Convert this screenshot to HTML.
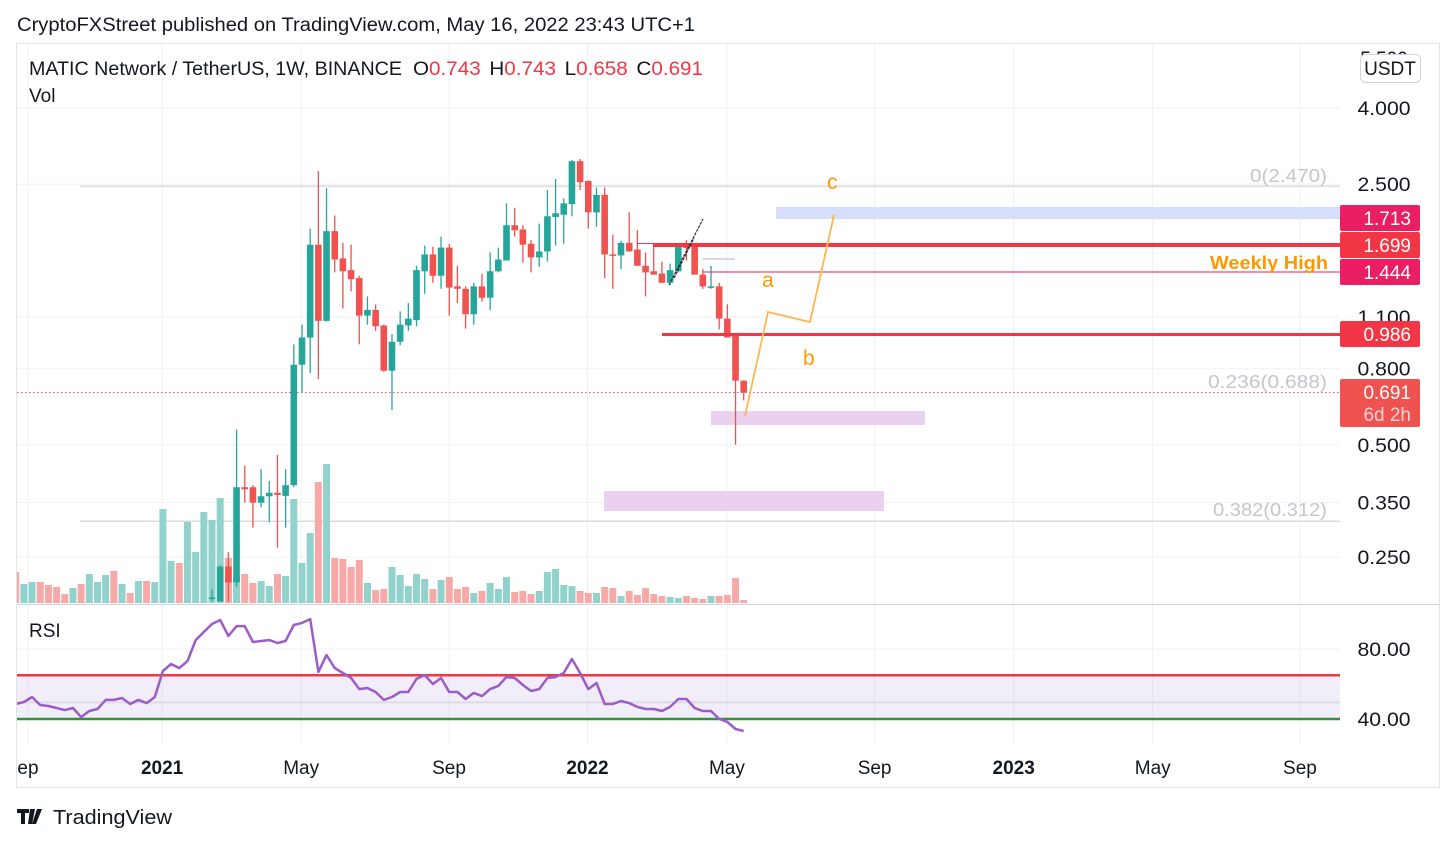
<!DOCTYPE html>
<html><head><meta charset="utf-8">
<style>
html,body{margin:0;padding:0;background:#fff;width:1455px;height:844px;overflow:hidden;font-family:"Liberation Sans",sans-serif;}
svg{position:absolute;left:0;top:0;}
</style></head>
<body>
<svg id="c" width="1455" height="844" viewBox="0 0 1455 844" xmlns="http://www.w3.org/2000/svg">
<defs><clipPath id="plotclip"><rect x="17" y="44" width="1323" height="700"/></clipPath></defs>
<text x="17" y="31" font-size="19" fill="#131722" textLength="678" lengthAdjust="spacingAndGlyphs">CryptoFXStreet published on TradingView.com, May 16, 2022 23:43 UTC+1</text>
<rect x="16.5" y="43.5" width="1423" height="744" fill="none" stroke="#e0e3eb"/>
<g id="grid"></g>
<g id="annot-back" clip-path="url(#plotclip)"></g>
<g id="vol" clip-path="url(#plotclip)"></g>
<g id="candles"></g>
<g id="annot"></g>
<line x1="17" y1="604.5" x2="1439" y2="604.5" stroke="#d1d4dc"/>
<g id="rsi" clip-path="url(#plotclip)"></g>
<g id="axes"></g>
<text x="29" y="75" font-size="19" fill="#131722" textLength="373" lengthAdjust="spacingAndGlyphs">MATIC Network / TetherUS, 1W, BINANCE</text>
<text x="413" y="75" font-size="19" fill="#131722" textLength="290" lengthAdjust="spacingAndGlyphs">O<tspan fill="#f23645">0.743</tspan><tspan dx="8">H</tspan><tspan fill="#f23645">0.743</tspan><tspan dx="8">L</tspan><tspan fill="#f23645">0.658</tspan><tspan dx="8">C</tspan><tspan fill="#f23645">0.691</tspan></text>
<text x="29" y="102" font-size="19" fill="#131722">Vol</text>
<text x="29" y="637" font-size="19" fill="#131722">RSI</text>
<rect x="1360.5" y="54.5" width="60" height="28" rx="5" fill="#fff" stroke="#d1d4dc"/>
<text x="1390" y="75" font-size="19" fill="#131722" text-anchor="middle">USDT</text>
<g>
<path d="M17 809h12v4h-4v11h-4v-11h-4z M30 809h5l-3 15h-4z M37 809h5l-6 15h-4z" fill="#131722"/>
<text x="53" y="824" font-size="20" fill="#131722" textLength="119" lengthAdjust="spacingAndGlyphs">TradingView</text>
</g>
</svg>
<script>
const opens  =[0.193,0.190,0.236,0.214,0.385,0.385,0.35,0.364,0.372,0.365,0.39,0.82,0.97,1.72,1.075,1.87,1.58,1.47,1.40,1.11,1.15,1.045,0.79,0.945,1.045,1.08,1.46,1.62,1.42,1.69,1.33,1.31,1.12,1.33,1.24,1.46,1.56,1.94,1.89,1.73,1.59,1.65,2.04,2.07,2.21,2.88,2.55,2.10,2.34,1.62,1.61,1.74,1.67,1.51,1.46,1.44,1.36,1.46,1.70,1.70,1.43,1.32,1.33,1.09,0.985,0.743];
const highs  =[0.205,0.238,0.258,0.55,0.44,0.39,0.43,0.40,0.47,0.43,0.93,1.05,1.90,2.71,2.44,2.06,1.74,1.72,1.42,1.25,1.19,1.05,0.99,1.14,1.20,1.51,1.71,1.70,1.81,1.73,1.51,1.33,1.36,1.44,1.64,1.69,2.22,2.16,1.94,1.77,1.96,2.41,2.58,2.29,2.90,2.92,2.56,2.45,2.45,1.83,1.76,2.10,1.88,1.64,1.71,1.55,1.53,1.71,1.77,1.71,1.48,1.51,1.36,1.19,0.99,0.745];
const lows   =[0.190,0.190,0.190,0.208,0.35,0.30,0.34,0.31,0.265,0.30,0.385,0.69,0.78,0.75,1.07,1.45,1.16,1.29,0.93,1.05,1.01,0.785,0.62,0.925,1.01,1.04,1.27,1.36,1.31,1.11,1.20,1.025,1.05,1.21,1.15,1.45,1.56,1.81,1.54,1.45,1.50,1.55,1.71,1.73,2.05,2.41,1.90,1.92,1.40,1.31,1.48,1.65,1.51,1.25,1.43,1.36,1.34,1.45,1.56,1.43,1.31,1.31,1.02,0.97,0.50,0.658];
const closes =[0.195,0.236,0.214,0.385,0.38,0.35,0.364,0.372,0.367,0.39,0.82,0.97,1.72,1.075,1.87,1.57,1.46,1.39,1.11,1.15,1.04,0.79,0.945,1.05,1.09,1.47,1.62,1.42,1.69,1.32,1.31,1.12,1.33,1.24,1.46,1.57,1.94,1.88,1.72,1.59,1.65,2.05,2.09,2.22,2.88,2.53,2.10,2.34,1.62,1.61,1.74,1.65,1.51,1.45,1.43,1.36,1.47,1.70,1.69,1.43,1.33,1.33,1.09,0.97,0.743,0.691];
const volumes=[31,19,21,21,18,16,9,15,19,29,21,28,32,19,10,22,22,21,94,42,40,81,51,91,83,105,45,27,29,20,22,17,29,27,104,40,70,121,139,45,44,36,43,20,13,14,36,28,17,29,24,14,23,26,14,16,10,12,20,14,26,11,12,9,12,31,34,18,17,12,10,10,16,15,7,12,8,15,9,7,6,5,7,5,4,7,7,8,25,3];
const preVolDir=[0,1,1,0,0,0,0,1,0,1,1,1,0,1,0,1,0,1,1,1,0,1,1,1];
const rsiValues=[48.6,49.7,52.6,48.0,47.4,46.3,45.1,46.3,41.1,44.6,45.7,50.9,50.9,52.0,48.6,50.9,49.1,52.6,67.4,71.4,69.1,73.1,85.1,89.7,94.3,96.6,87.4,93.1,93.1,84.0,84.6,85.1,83.4,84.6,93.7,94.9,97.1,66.9,76.6,69.1,66.3,63.4,57.1,57.7,55.4,50.9,52.6,55.4,55.4,62.9,65.1,60.0,63.4,55.4,55.4,51.4,54.9,53.1,57.1,58.9,64.0,63.4,59.4,56.0,57.1,63.4,64.0,66.3,74.3,66.3,57.1,60.6,48.6,48.6,50.3,49.1,46.9,45.7,45.7,44.6,46.9,51.4,51.4,46.3,44.6,44.6,40.0,38.3,34.3,33.1];
const priceTicks=[4.0,2.5,1.1,0.8,0.5,0.35,0.25];
const priceTickLabels=["4.000","2.500","1.100","0.800","0.500","0.350","0.250"];
const rsiTicks=[80,40];
const rsiTickLabels=["80.00","40.00"];
const timeTickWeeks=[1.5,17.9,34.9,52.97,69.9,86.95,105.0,122.0,139.0,157.0];
const timeTickLabels=["ep","2021","May","Sep","2022","May","Sep","2023","May","Sep"];
const timeTickBold=[0,1,0,0,1,0,0,1,0,0];
const CANDLE_OFFSET=24;

const NS="http://www.w3.org/2000/svg";
function el(tag,attrs,parent){const e=document.createElementNS(NS,tag);for(const k in attrs)e.setAttribute(k,attrs[k]);parent.appendChild(e);return e;}
function xOf(w){return 15.7+w*8.18;}
function yP(p){return 108+Math.log(4/p)*162;}
function yV(v){return 603-v;}
function yR(v){return 649-(v-80)*1.75;}
const PR=1340, PL=17;
const UP="#26a69a",DN="#ef5350";

const grid=document.getElementById('grid');
priceTicks.forEach(p=>{const l=el('line',{x1:PL,x2:PR,y1:yP(p),y2:yP(p),stroke:'#f0f1f4'},grid);
});
rsiTicks.forEach(v=>{const l=el('line',{x1:PL,x2:PR,y1:yR(v),y2:yR(v),stroke:'#f0f1f4'},grid);
});
timeTickWeeks.forEach(w=>{const l=el('line',{x1:xOf(w),x2:xOf(w),y1:44,y2:745,stroke:'#f0f1f4'},grid);
});

const ab=document.getElementById('annot-back');
function rect(x,y,w,h,f,name,par){const r=el('rect',{x:x,y:y,width:w,height:h,fill:f},par||ab);return r;}
function line(x1,y1,x2,y2,s,wd,name,par,extra){const l=el('line',Object.assign({x1:x1,y1:y1,x2:x2,y2:y2,stroke:s,'stroke-width':wd},extra||{}),par||ab);return l;}
line(80,yP(2.47),PR,yP(2.47),'#d1d4dc',1.2,'fib-level-0');
line(80,yP(0.312),PR,yP(0.312),'#d1d4dc',1.2,'fib-level-0382');
line(PL,yP(0.691),PR,yP(0.691),'#ef5350',1,'last-price-line',ab,{'stroke-dasharray':'1.5 2.5'});
rect(776,207,PR-776,12,'#d5defa','target-zone-blue');
rect(711,411,214,14,'#e9d1ef','support-zone-upper');
rect(604,491,280,20,'#e9d1ef','support-zone-lower');

const vg=document.getElementById('vol');
volumes.forEach((v,k)=>{let up;
 if(k<CANDLE_OFFSET) up=preVolDir[k]; else {const i=k-CANDLE_OFFSET; up=closes[i]>=opens[i]?1:0;}
 const r=el('rect',{x:xOf(k)-3.5,y:yV(v),width:7,height:v,fill:up?'#92d2cc':'#f7a9a7'},vg);
 
 
});

const cg=document.getElementById('candles');
opens.forEach((o,i)=>{const c=closes[i],x=xOf(i+CANDLE_OFFSET),col=c>=o?UP:DN;
 const g=el('g',{},cg);
 
 
 el('line',{x1:x,x2:x,y1:Math.min(yP(highs[i]),603),y2:Math.min(yP(lows[i]),603),stroke:col,'stroke-width':1.3},g);
 const t=Math.min(yP(o),yP(c)),b=Math.max(yP(o),yP(c));
 el('rect',{x:x-3.3,y:Math.min(t,603),width:6.6,height:Math.max(1.5,Math.min(b,603)-Math.min(t,603)),fill:col},g);
});

const an=document.getElementById('annot');
line(637,243.5,PR,243.5,'#f23645',1,'resistance-thin',an);
line(653,245.5,PR,245.5,'#f23645',3,'resistance-1699',an);
line(703,272,PR,272,'#e91e63',1,'weekly-high-line',an);
line(703,259,735,259,'#c5cbe8',1.5,'short-blue-line',an);
line(662,334.5,PR,334.5,'#f23645',3,'support-0986',an);
line(669,285,703,219,'#333',1.2,'trend-line-1',an,{'stroke-dasharray':'3 1'});
line(674,278,694,238,'#333',1.2,'trend-line-2',an,{'stroke-dasharray':'3 1'});
const wp=el('polyline',{points:'745,416 768,312 810,322 834,215',fill:'none',stroke:'#ffb74d','stroke-width':1.8},an);


function txt(x,y,s,attrs,name,par){const t=el('text',Object.assign({x:x,y:y},attrs),par||an);t.textContent=s;return t;}
txt(762,287,'a',{'font-size':21,fill:'#ff9800'},'wave-label-a');
txt(803,365,'b',{'font-size':21,fill:'#ff9800'},'wave-label-b');
txt(827,189,'c',{'font-size':21,fill:'#ff9800'},'wave-label-c');
txt(1210,269,'Weekly High',{'font-size':18,fill:'#ff9800','font-weight':'bold',textLength:118,lengthAdjust:'spacingAndGlyphs'},'weekly-high-label');
txt(1250,182,'0(2.470)',{'font-size':18,fill:'#c3c6cf',textLength:77,lengthAdjust:'spacingAndGlyphs'},'fib-label-0');
txt(1208,388,'0.236(0.688)',{'font-size':18,fill:'#c3c6cf',textLength:119,lengthAdjust:'spacingAndGlyphs'},'fib-label-0236');
txt(1213,516,'0.382(0.312)',{'font-size':18,fill:'#c3c6cf',textLength:114,lengthAdjust:'spacingAndGlyphs'},'fib-label-0382');

const rg=document.getElementById('rsi');
rect(PL,yR(65),PR-PL,yR(40)-yR(65),'rgba(126,87,194,0.1)','rsi-band',rg);
line(PL,yR(49.5),PR,yR(49.5),'#dcdbe6',2,'rsi-mid-line',rg);
line(PL,yR(65),PR,yR(65),'#f23645',2.5,'rsi-upper-line',rg);
line(PL,yR(40),PR,yR(40),'#388e3c',2.5,'rsi-lower-line',rg);
const rp=el('polyline',{points:rsiValues.map((v,k)=>xOf(k).toFixed(1)+','+yR(v).toFixed(1)).join(' '),fill:'none',stroke:'#9c5cc9','stroke-width':2.5,'stroke-linejoin':'round'},rg);



const ax=document.getElementById('axes');
txt(1384,65,'5.500',{'font-size':19,fill:'#131722','text-anchor':'middle'},'price-tick',ax);
priceTicks.forEach((p,i)=>{txt(1384,yP(p)+7,priceTickLabels[i],{'font-size':19,fill:'#131722','text-anchor':'middle',textLength:53,lengthAdjust:'spacingAndGlyphs'},'price-tick',ax);});
rsiTicks.forEach((v,i)=>{txt(1384,yR(v)+7,rsiTickLabels[i],{'font-size':19,fill:'#131722','text-anchor':'middle',textLength:53,lengthAdjust:'spacingAndGlyphs'},'rsi-tick',ax);});
timeTickWeeks.forEach((w,i)=>{txt(xOf(w),774,timeTickLabels[i],{'font-size':19,fill:'#131722','text-anchor':'middle','font-weight':timeTickBold[i]?'bold':'normal'},'time-tick',ax);});
function badge(y,h,col,lines,name){const g=el('g',{},ax);
 el('rect',{x:1340,y:y,width:80,height:h,rx:2,fill:col},g);
 lines.forEach((s,j)=>{const t=el('text',{x:1411,y:y+20+j*22,'font-size':19,fill:j?'#fbd3d2':'#fff','text-anchor':'end'},g);t.textContent=s;});}
badge(205,26,'#e91e63',['1.713'],'badge-1713');
badge(232,26,'#f23645',['1.699'],'badge-1699');
badge(259,26,'#e91e63',['1.444'],'badge-1444');
badge(321,26,'#f23645',['0.986'],'badge-0986');
badge(379,48,'#ef5350',['0.691','6d 2h'],'badge-last-price');
</script>
</body></html>
